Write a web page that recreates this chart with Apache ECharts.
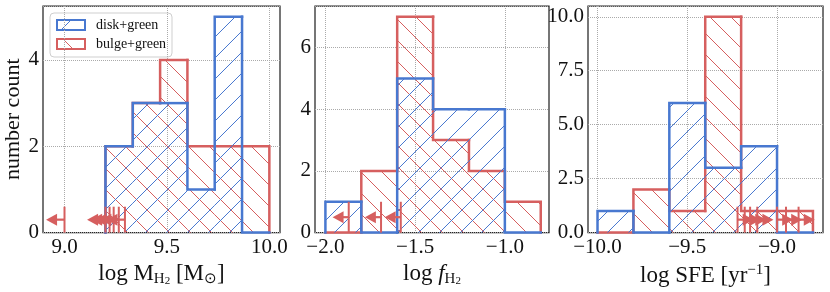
<!DOCTYPE html>
<html><head><meta charset="utf-8">
<script src="https://cdn.jsdelivr.net/npm/echarts@6/dist/echarts.min.js"></script>
<style>html,body{margin:0;padding:0;background:#fff}#c{width:830px;height:292px}</style>
</head><body><div id="c"></div>
<script>
// ---------- data ----------
const legendNames = ['disk+green', 'bulge+green'];
// panel 1: log M_H2
const mBins = [9.2, 9.3333, 9.4667, 9.6, 9.7333, 9.8667, 10.0];
const mDisk = [2, 3, 3, 1, 5, 0];
const mBulge = [2, 3, 4, 2, 2, 2];
const mLimits = [9.0, 9.2, 9.22, 9.24, 9.265, 9.295];
const mTicks = [9.0, 9.5, 10.0];
// panel 2: log f_H2
const fBins = [-2.0, -1.8, -1.6, -1.4, -1.2, -1.0, -0.8];
const fDisk = [1, 0, 5, 4, 4, 0];
const fBulge = [0, 2, 7, 3, 2, 1];
const fLimits = [-1.87, -1.69, -1.58];
const fTicks = [-2.0, -1.5, -1.0];
// panel 3: log SFE
const sBins = [-10.0, -9.8, -9.6, -9.4, -9.2, -9.0, -8.8];
const sDisk = [1, 0, 6, 3, 4, 0];
const sBulge = [0, 2, 1, 10, 1, 1];
const sLimits = [-9.22, -9.18, -9.15, -9.11, -9.0, -8.95, -8.88];
const sTicks = [-10.0, -9.5, -9.0];

// ---------- style ----------
const BLUE = '#4878d0', RED = '#d65f5f', INK = '#111';
const FONT = '"Liberation Serif","Times New Roman",serif';
const HS = 21;   // hatch spacing (px)

// hatch lines clipped to a rectangle; dir>0 => '/', dir<0 => '\'
function hatchLines(x0, y0, x1, y1, dir, color) {
  const out = [];
  if (x1 - x0 < 1 || y1 - y0 < 1) return out;
  if (dir > 0) { // x + y = c
    const cmin = Math.ceil((x0 + y0) / HS) * HS, cmax = x1 + y1;
    for (let c = cmin; c <= cmax; c += HS) {
      const xa = Math.max(x0, c - y1), xb = Math.min(x1, c - y0);
      if (xb - xa > 0.5) out.push({ type: 'line', shape: { x1: xa, y1: c - xa, x2: xb, y2: c - xb }, style: { stroke: color, lineWidth: 1 } });
    }
  } else { // y - x = c
    const cmin = Math.ceil((y0 - x1) / HS) * HS, cmax = y1 - x0;
    for (let c = cmin; c <= cmax; c += HS) {
      const xa = Math.max(x0, y0 - c), xb = Math.min(x1, y1 - c);
      if (xb - xa > 0.5) out.push({ type: 'line', shape: { x1: xa, y1: xa + c, x2: xb, y2: xb + c }, style: { stroke: color, lineWidth: 1 } });
    }
  }
  return out;
}

// step-outline histogram with hatching
function histSeries(name, bins, counts, idx, color, dir, z) {
  return {
    type: 'custom', name, xAxisIndex: idx, yAxisIndex: idx, z,
    data: counts.map((c, i) => [bins[i], bins[i + 1], c, i > 0 ? counts[i - 1] : 0, i === counts.length - 1 ? 1 : 0]),
    encode: { x: [0, 1], y: 2 },
    renderItem: (p, api) => {
      const x0 = api.value(0), x1 = api.value(1), h = api.value(2), hp = api.value(3), last = api.value(4);
      const a = api.coord([x0, 0]);
      const b = api.coord([x1, h]);
      const kids = hatchLines(a[0], b[1], b[0], a[1], dir, color);
      const pts = [api.coord([x0, hp]), api.coord([x0, h]), api.coord([x1, h])];
      if (last) pts.push(api.coord([x1, 0]));
      kids.push({ type: 'polyline', shape: { points: pts },
        style: { fill: 'none', stroke: color, lineWidth: 2.5, lineJoin: 'miter', lineCap: 'square' } });
      return { type: 'group', children: kids };
    }
  };
}
function limitSeries(vals, idx, Y, dir) {
  const L = 0.09;
  return {
    type: 'custom', xAxisIndex: idx, yAxisIndex: idx, z: 5, silent: true,
    data: vals.map(v => [v, Y]),
    encode: { x: 0, y: 1 },
    renderItem: (p, api) => {
      const x = api.value(0), y = api.value(1);
      const t = api.coord([x, 2 * y]), bo = api.coord([x, 0]), m = api.coord([x, y]);
      const tip = api.coord([x + dir * L, y]);
      const hl = 11, hh = 6;
      return { type: 'group', children: [
        { type: 'line', shape: { x1: bo[0], y1: bo[1], x2: t[0], y2: t[1] }, style: { stroke: RED, lineWidth: 2 } },
        { type: 'line', shape: { x1: m[0], y1: m[1], x2: tip[0] - dir * hl * 0.5, y2: tip[1] }, style: { stroke: RED, lineWidth: 2.2 } },
        { type: 'polygon', shape: { points: [[tip[0], tip[1]], [tip[0] - dir * hl, tip[1] - hh], [tip[0] - dir * hl, tip[1] + hh]] }, style: { fill: RED } }
      ] };
    }
  };
}
const fmtX = v => v.toFixed(1).replace('-', '\u2212');
const rich = {
  a: { fontFamily: FONT, fontSize: 23, lineHeight: 26, color: INK },
  i: { fontFamily: FONT, fontSize: 23, lineHeight: 26, color: INK, fontStyle: 'italic' },
  s: { fontFamily: FONT, fontSize: 15, lineHeight: 13, verticalAlign: 'bottom', color: INK },
  ss: { fontFamily: FONT, fontSize: 11, lineHeight: 5, verticalAlign: 'bottom', color: INK },
  sup: { fontFamily: FONT, fontSize: 15, lineHeight: 13, verticalAlign: 'top', color: INK }
};
function xAxis(idx, min, max, ticks, name) {
  return {
    type: 'value', gridIndex: idx, min, max,
    name, nameLocation: 'middle', nameGap: 20, nameTextStyle: { rich },
    axisLine: { show: false }, axisTick: { show: false, customValues: ticks },
    axisLabel: { customValues: ticks, formatter: fmtX, fontFamily: FONT, fontSize: 21, color: INK, margin: 4 },
    splitLine: { show: true, lineStyle: { color: '#aaa', type: 'dotted', width: 1 } }
  };
}
function yAxis(idx, max, interval, fmt, name) {
  const o = {
    type: 'value', gridIndex: idx, min: 0, max, interval,
    axisLine: { show: false }, axisTick: { show: false },
    axisLabel: { showMaxLabel: false, formatter: fmt, fontFamily: FONT, fontSize: 21, color: INK, margin: 4 },
    splitLine: { show: true, lineStyle: { color: '#aaa', type: 'dotted', width: 1 } }
  };
  if (name) Object.assign(o, { name, nameLocation: 'middle', nameGap: 18,
    nameTextStyle: { fontFamily: FONT, fontSize: 22, color: INK } });
  return o;
}
const gridBase = { top: 6, height: 228, show: true, borderColor: '#262626', borderWidth: 1.25, backgroundColor: '#fff' };

// legend drawn as graphic (hatched swatches)
const LX = 50, LY = 13;
function swatch(y, color, dir, label) {
  const x0 = LX + 7, w = 28, h = 10;
  return [
    { type: 'line', shape: dir > 0 ? { x1: x0 + 4, y1: y + h, x2: x0 + 14, y2: y } : { x1: x0 + 6, y1: y, x2: x0 + 16, y2: y + h }, style: { stroke: color, lineWidth: 1 } },
    { type: 'rect', shape: { x: x0, y, width: w, height: h }, style: { fill: 'none', stroke: color, lineWidth: 2 } },
    { type: 'text', x: LX + 46, y: y + h / 2, style: { text: label, font: '14px ' + FONT, fill: INK, verticalAlign: 'middle', align: 'left' } }
  ];
}
const legendGraphic = {
  type: 'group', z: 100, children: [
    { type: 'rect', shape: { x: LX, y: LY, width: 122, height: 44, r: 4 }, style: { fill: 'rgba(255,255,255,0.85)', stroke: '#cfcfcf', lineWidth: 1 } },
    ...swatch(LY + 7, BLUE, 1, legendNames[0]),
    ...swatch(LY + 26, RED, -1, legendNames[1])
  ]
};

const chart = echarts.init(document.getElementById('c'), null, { renderer: 'canvas' });
chart.setOption({
  animation: false,
  backgroundColor: '#fff',
  grid: [
    Object.assign({ left: 43, width: 237 }, gridBase),
    Object.assign({ left: 315, width: 234 }, gridBase),
    Object.assign({ left: 588, width: 235 }, gridBase)
  ],
  xAxis: [
    xAxis(0, 8.895, 10.052, mTicks, '{a|log M}{s|H}{ss|2}{a| [M}{s|\u2299}{a|]}'),
    xAxis(1, -2.058, -0.754, fTicks, '{a|log }{i|f}{s|H}{ss|2}'),
    xAxis(2, -10.053, -8.744, sTicks, '{a|log SFE [yr}{sup|\u22121}{a|]}')
  ],
  yAxis: [
    yAxis(0, 5.25, 2, v => String(v), 'number count'),
    yAxis(1, 7.35, 2, v => String(v)),
    yAxis(2, 10.5, 2.5, v => v.toFixed(1))
  ],
  graphic: [legendGraphic],
  series: [
    histSeries(legendNames[1], mBins, mBulge, 0, RED, -1, 2),
    histSeries(legendNames[0], mBins, mDisk, 0, BLUE, 1, 3),
    histSeries(legendNames[1], fBins, fBulge, 1, RED, -1, 2),
    histSeries(legendNames[0], fBins, fDisk, 1, BLUE, 1, 3),
    histSeries(legendNames[1], sBins, sBulge, 2, RED, -1, 2),
    histSeries(legendNames[0], sBins, sDisk, 2, BLUE, 1, 3),
    limitSeries(mLimits, 0, 0.3, -1),
    limitSeries(fLimits, 1, 0.5, -1),
    limitSeries(sLimits, 2, 0.6, 1)
  ]
});
</script></body></html>
